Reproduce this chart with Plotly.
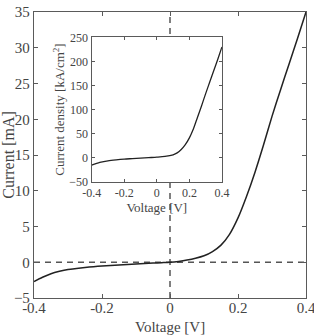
import plotly.graph_objects as go

voltage = [-0.4, -0.375, -0.35, -0.325, -0.3, -0.275, -0.25, -0.225, -0.2, -0.175,
           -0.15, -0.125, -0.1, -0.075, -0.05, -0.025, 0.0, 0.025, 0.05, 0.075,
           0.1, 0.125, 0.15, 0.175, 0.2, 0.225, 0.25, 0.275, 0.3, 0.325,
           0.35, 0.375, 0.4]
current_ma = [-2.7, -2.1, -1.6, -1.27, -1.02, -0.87, -0.74, -0.62, -0.52, -0.44,
              -0.38, -0.32, -0.26, -0.19, -0.12, -0.06, 0.0, 0.12, 0.3, 0.55,
              0.9, 1.5, 2.4, 3.9, 6.2, 9.2, 12.6, 16.4, 20.4, 24.1,
              27.7, 31.3, 35.0]
inset_voltage = [-0.4, -0.35, -0.3, -0.25, -0.2, -0.15, -0.1, -0.05, 0.0, 0.05,
                 0.1, 0.125, 0.15, 0.175, 0.2, 0.225, 0.25, 0.275, 0.3, 0.325,
                 0.35, 0.375, 0.4]
density = [-15.5, -10, -6.5, -4.5, -3, -2, -1, 0, 1, 2.5,
           6, 10, 17, 27, 41, 60, 84, 108, 133, 157,
           181, 205, 230]

main_xticks = [-0.4, -0.2, 0, 0.2, 0.4]
xtick_text = ["-0.4", "-0.2", "0", "0.2", "0.4"]
main_yticks = [-5, 0, 5, 10, 15, 20, 25, 30, 35]
inset_yticks = [-50, 0, 50, 100, 150, 200, 250]

font = "Liberation Serif"
axis_col = "#5a5a5a"
line_col = "#222222"
text_col = "#444444"

fig = go.Figure()
fig.add_trace(go.Scatter(x=[-0.4, 0.4], y=[0, 0], mode="lines",
                         line=dict(color="#555555", width=1.5, dash="6px,5px"),
                         xaxis="x", yaxis="y", hoverinfo="skip"))
fig.add_trace(go.Scatter(x=[0, 0], y=[-5, 35], mode="lines",
                         line=dict(color="#555555", width=1.5, dash="6px,5px"),
                         xaxis="x", yaxis="y", hoverinfo="skip"))
fig.add_trace(go.Scatter(x=voltage, y=current_ma, mode="lines",
                         line=dict(color=line_col, width=1.5, shape="spline", smoothing=0.8),
                         xaxis="x", yaxis="y"))
fig.add_trace(go.Scatter(x=inset_voltage, y=density, mode="lines",
                         line=dict(color=line_col, width=1.3, shape="spline", smoothing=0.8),
                         xaxis="x2", yaxis="y2"))

common = dict(showline=True, linecolor=axis_col, linewidth=1.3, mirror="ticks",
              ticks="inside", tickcolor=axis_col, showgrid=False, zeroline=False,
              automargin=False)

fig.update_layout(
    width=314, height=335,
    margin=dict(l=34, r=8, t=12, b=37),
    paper_bgcolor="white", plot_bgcolor="white",
    showlegend=False,
    font=dict(family=font, color=text_col),
    xaxis=dict(domain=[0, 1], range=[-0.4, 0.4], tickvals=main_xticks,
               ticktext=xtick_text, ticklen=4, ticklabelstandoff=-4,
               ticklabeloverflow="allow",
               tickfont=dict(size=15), **common),
    yaxis=dict(domain=[0, 1], range=[-5, 35], tickvals=main_yticks, ticklen=4,
               tickfont=dict(size=15), title=dict(text="Current [mA]", font=dict(size=16), standoff=2),
               **common),
    xaxis2=dict(domain=[0.212, 0.691], anchor="y2", range=[-0.4, 0.4], tickvals=main_xticks,
                ticktext=xtick_text, ticklen=3,
                tickfont=dict(size=12), title=dict(text="Voltage [V]", font=dict(size=13), standoff=1),
                **common),
    yaxis2=dict(domain=[0.4066, 0.9115], anchor="x2", range=[-50, 250], tickvals=inset_yticks, ticklen=3,
                tickfont=dict(size=12),
                title=dict(text="Current density [kA/cm<sup>2</sup>]", font=dict(size=13), standoff=1),
                **common),
    annotations=[dict(text="Voltage [V]", xref="paper", yref="paper", x=0.5, y=-0.1,
                      xanchor="center", yanchor="middle", showarrow=False,
                      font=dict(family=font, size=15, color=text_col))],
)

fig.write_html("out.html")
